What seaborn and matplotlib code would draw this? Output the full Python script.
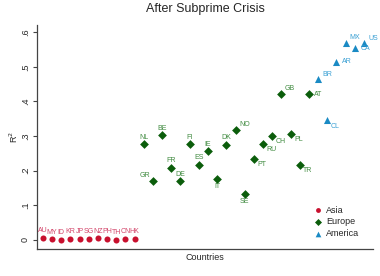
import matplotlib
matplotlib.use("Agg")
import matplotlib.pyplot as plt
import seaborn as sns
import pandas as pd

# ---- data ----
asia_codes = ["AU", "MY", "ID", "KR", "JP", "SG", "NZ", "PH", "TH", "CN", "HK"]
asia_r2 = [0.006, 0.002, 0.000, 0.003, 0.003, 0.003, 0.005, 0.004, 0.000, 0.003, 0.003]

europe_codes = ["NL", "GR", "BE", "FR", "DE", "FI", "ES", "IE", "IT", "DK",
                "NO", "SE", "PT", "RU", "CH", "GB", "PL", "TR", "AT"]
europe_r2 = [0.277, 0.171, 0.303, 0.209, 0.170, 0.277, 0.217, 0.256, 0.176, 0.275,
             0.318, 0.132, 0.234, 0.277, 0.300, 0.421, 0.306, 0.217, 0.421]

america_codes = ["BR", "CL", "AR", "MX", "CA", "US"]
america_r2 = [0.466, 0.345, 0.514, 0.568, 0.553, 0.570]

regions = ["Asia", "Europe", "America"]
yticks = [0, 0.1, 0.2, 0.3, 0.4, 0.5, 0.6]
ytick_labels = ["0", ".1", ".2", ".3", ".4", ".5", ".6"]

codes = asia_codes + europe_codes + america_codes
r2 = asia_r2 + europe_r2 + america_r2
region = (["Asia"] * len(asia_codes) + ["Europe"] * len(europe_codes)
          + ["America"] * len(america_codes))
df = pd.DataFrame({"code": codes, "r2": r2, "region": region})
df["idx"] = range(1, len(df) + 1)

# ---- style ----
marker_colors = {"Asia": "#c8102e", "Europe": "#0b5d0b", "America": "#1a8ac4"}
label_colors = {"Asia": "#d3456a", "Europe": "#3f8a3f", "America": "#3aa0d4"}
markers = {"Asia": "o", "Europe": "D", "America": "^"}
sizes = {"Asia": 19, "Europe": 20, "America": 26}

# label clock positions (Stata-like)
pos = {c: 12 for c in codes}
pos.update({"NO": 1, "GR": 11, "IT": 6, "SE": 6, "PT": 4, "RU": 4, "CH": 4,
            "PL": 4, "TR": 4, "GB": 1, "AT": 3, "MX": 1, "CA": 3, "US": 2,
            "AR": 3, "BR": 2, "CL": 4})
offsets = {
    12: ((0, 2.5), "center", "bottom"),
    1: ((2.5, 1.5), "left", "bottom"),
    2: ((3, 0.5), "left", "bottom"),
    3: ((4, 0), "left", "center"),
    4: ((2.5, -1.5), "left", "top"),
    6: ((0, -3), "center", "top"),
    11: ((-2, 1.5), "right", "bottom"),
}

sns.set_style("white")
plt.rcParams["font.family"] = ["Liberation Sans", "DejaVu Sans"]

fig = plt.figure(figsize=(3.8, 2.76), dpi=100)
ax = fig.add_axes([0.097, 0.098, 0.885, 0.812])

for reg in regions:
    sub = df[df["region"] == reg]
    sns.scatterplot(data=sub, x="idx", y="r2", ax=ax, marker=markers[reg],
                    color=marker_colors[reg], s=sizes[reg], linewidth=0,
                    label=reg, zorder=3)

for _, row in df.iterrows():
    (dx, dy), ha, va = offsets[pos[row["code"]]]
    ax.annotate(row["code"], (row["idx"], row["r2"]), xytext=(dx, dy),
                textcoords="offset points", ha=ha, va=va, fontsize=5,
                color=label_colors[row["region"]])

ax.set_xlim(0.35, 37.0)
ax.set_ylim(-0.026, 0.621)
ax.set_yticks(yticks)
ax.set_yticklabels(ytick_labels, rotation=90, va="center", fontsize=6.5)
ax.set_xticks([])
ax.tick_params(axis="y", direction="out", length=3, width=0.8, color="#444444",
               left=True, pad=2)
for s in ["top", "right"]:
    ax.spines[s].set_visible(False)
for s in ["left", "bottom"]:
    ax.spines[s].set_color("#444444")
    ax.spines[s].set_linewidth(0.9)

ax.set_xlabel("Countries", fontsize=6.5, labelpad=3)
ax.set_ylabel("R$^2$", fontsize=6.5, labelpad=1)
ax.set_title("After Subprime Crisis", fontsize=9, pad=9)

leg = ax.legend(loc="lower right", bbox_to_anchor=(0.975, 0.025), frameon=False,
                fontsize=6.5, handletextpad=0.3, labelspacing=0.3,
                borderaxespad=0.2, markerscale=0.8, handlelength=1.2)

fig.savefig("out.png", dpi=100)
